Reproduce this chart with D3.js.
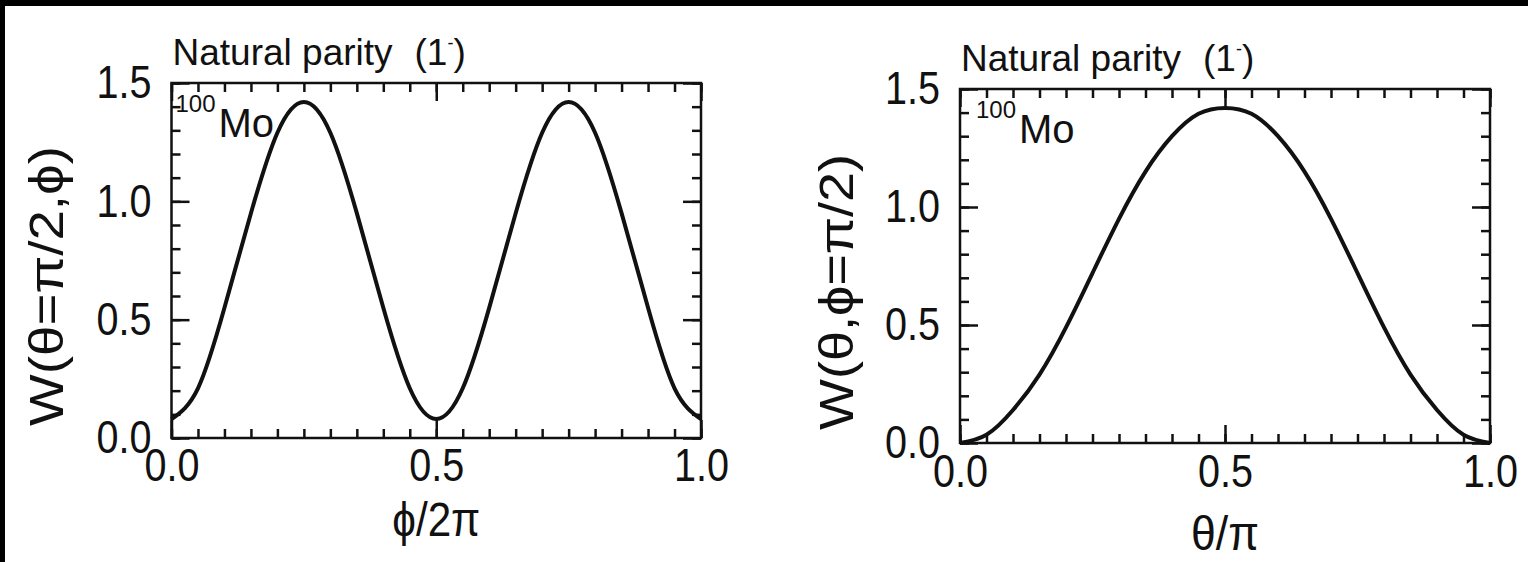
<!DOCTYPE html>
<html>
<head>
<meta charset="utf-8">
<script src="https://cdn.jsdelivr.net/npm/d3@7"></script>
<style>
  body { margin: 0; background: #fff; }
  text { font-family: 'Liberation Sans', Arial, Helvetica, sans-serif; fill: #111; }
</style>
</head>
<body>
<div id="app"></div>
<script>
(function (d3) {

  'use strict'

  // values, step 0.05 along x
  const xSteps = [0, 0.05, 0.1, 0.15, 0.2, 0.25, 0.3, 0.35, 0.4, 0.45, 0.5,
    0.55, 0.6, 0.65, 0.7, 0.75, 0.8, 0.85, 0.9, 0.95, 1.0]
  const phiW = [0.08, 0.21, 0.55, 0.95, 1.29, 1.42, 1.29, 0.95, 0.55, 0.21, 0.08,
    0.21, 0.55, 0.95, 1.29, 1.42, 1.29, 0.95, 0.55, 0.21, 0.08]
  const thetaW = [0, 0.035, 0.14, 0.29, 0.49, 0.72, 0.95, 1.15, 1.30, 1.395, 1.42,
    1.395, 1.30, 1.15, 0.95, 0.72, 0.49, 0.29, 0.14, 0.035, 0]

  const xMajor = [0, 0.5, 1.0]
  const yMajor = [0, 0.5, 1.0, 1.5]
  const xMinor = d3.range(0, 21).map(i => i / 20)
  const yMinor = d3.range(0, 16).map(i => i / 10)

  const panelTitle = 'Natural parity'
  const nucleus = ['100', 'Mo']
  const leftYLabel = 'W(θ=π/2,ϕ)'
  const rightYLabel = 'W(θ,ϕ=π/2)'
  const leftXLabel = 'ϕ/2π'
  const rightXLabel = 'θ/π'

  const W = 1528
  const H = 562

  const svg = d3.select('#app')
    .append('svg')
    .attr('width', W)
    .attr('height', H)

  svg.append('rect').attr('width', W).attr('height', 6).attr('fill', '#000')
  svg.append('rect').attr('width', 5).attr('height', H).attr('fill', '#000')

  const drawPanel = function (p) {
    const x = d3.scaleLinear().domain([0, 1]).range([p.left, p.right])
    const y = d3.scaleLinear().domain([0, 1.5]).range([p.bottom, p.top])
    const g = svg.append('g')
    const fmt = d3.format('.1f')

    // ticks and labels look condensed in the original
    const styleAxis = function (sel) {
      sel.select('.domain').remove()
      sel.selectAll('line').attr('stroke', '#111').attr('stroke-width', 2.5)
      sel.selectAll('text')
        .style('font-size', '46px')
        .attr('fill', '#111')
        .attr('textLength', 55)
        .attr('lengthAdjust', 'spacingAndGlyphs')
    }

    // minor ticks, all four sides, pointing inward
    g.append('g').attr('transform', `translate(0,${p.bottom})`)
      .call(d3.axisBottom(x).tickValues(xMinor).tickSize(-9).tickFormat(''))
      .call(styleAxis)
    g.append('g').attr('transform', `translate(0,${p.top})`)
      .call(d3.axisTop(x).tickValues(xMinor).tickSize(-9).tickFormat(''))
      .call(styleAxis)
    g.append('g').attr('transform', `translate(${p.left},0)`)
      .call(d3.axisLeft(y).tickValues(yMinor).tickSize(-9).tickFormat(''))
      .call(styleAxis)
    g.append('g').attr('transform', `translate(${p.right},0)`)
      .call(d3.axisRight(y).tickValues(yMinor).tickSize(-9).tickFormat(''))
      .call(styleAxis)

    // major ticks with labels
    g.append('g').attr('transform', `translate(0,${p.bottom})`)
      .call(d3.axisBottom(x).tickValues(xMajor).tickSize(-18).tickPadding(p.xPad).tickFormat(fmt))
      .call(styleAxis)
    g.append('g').attr('transform', `translate(0,${p.top})`)
      .call(d3.axisTop(x).tickValues(xMajor).tickSize(-18).tickFormat(''))
      .call(styleAxis)
    g.append('g').attr('transform', `translate(${p.left},0)`)
      .call(d3.axisLeft(y).tickValues(yMajor).tickSize(-18).tickPadding(20).tickFormat(fmt))
      .call(styleAxis)
    g.append('g').attr('transform', `translate(${p.right},0)`)
      .call(d3.axisRight(y).tickValues(yMajor).tickSize(-18).tickFormat(''))
      .call(styleAxis)

    g.append('rect')
      .attr('x', p.left).attr('y', p.top)
      .attr('width', p.right - p.left).attr('height', p.bottom - p.top)
      .attr('fill', 'none').attr('stroke', '#111').attr('stroke-width', 2.5)

    const line = d3.line()
      .x((d, i) => x(xSteps[i]))
      .y(d => y(d))
      .curve(d3.curveNatural)

    g.append('path')
      .datum(p.values)
      .attr('d', line)
      .attr('fill', 'none')
      .attr('stroke', '#111')
      .attr('stroke-width', 4)

    // title above frame
    const t = g.append('text')
      .attr('x', p.left + 1)
      .attr('y', p.top - 18)
      .style('font-size', '37px')
    t.append('tspan').text(panelTitle)
    t.append('tspan').attr('dx', 22).text('(1')
    t.append('tspan').attr('dy', -16).style('font-size', '18px').text('-')
    t.append('tspan').attr('dy', 16).text(')')

    // nucleus label
    const n = g.append('text')
      .attr('x', p.left + p.nucX)
      .attr('y', p.top + 54)
    n.append('tspan').attr('dy', -25).style('font-size', '24px').text(nucleus[0])
    n.append('tspan').attr('dy', 25).attr('dx', 3).style('font-size', '40px').text(nucleus[1])

    g.append('text')
      .attr('transform', `translate(${p.yLabX},${p.yLabY}) rotate(-90)`)
      .attr('text-anchor', 'middle')
      .attr('textLength', p.yLabLen)
      .attr('lengthAdjust', 'spacingAndGlyphs')
      .style('font-size', '48px')
      .text(p.yLabel)

    g.append('text')
      .attr('x', (p.left + p.right) / 2)
      .attr('y', p.xLabY)
      .attr('text-anchor', 'middle')
      .attr('textLength', p.xLabLen)
      .attr('lengthAdjust', 'spacingAndGlyphs')
      .style('font-size', '48px')
      .text(p.xLabel)
  }

  drawPanel({left: 171.5, right: 701, top: 83, bottom: 438, xPad: 10, nucX: 4,
    values: phiW, yLabel: leftYLabel, xLabel: leftXLabel,
    yLabX: 63, yLabY: 286, yLabLen: 280, xLabY: 536, xLabLen: 88})
  drawPanel({left: 960, right: 1490, top: 89, bottom: 443, xPad: 11, nucX: 16,
    values: thetaW, yLabel: rightYLabel, xLabel: rightXLabel,
    yLabX: 853, yLabY: 292, yLabLen: 276, xLabY: 550, xLabLen: 68})

}(d3))
</script>
</body>
</html>
